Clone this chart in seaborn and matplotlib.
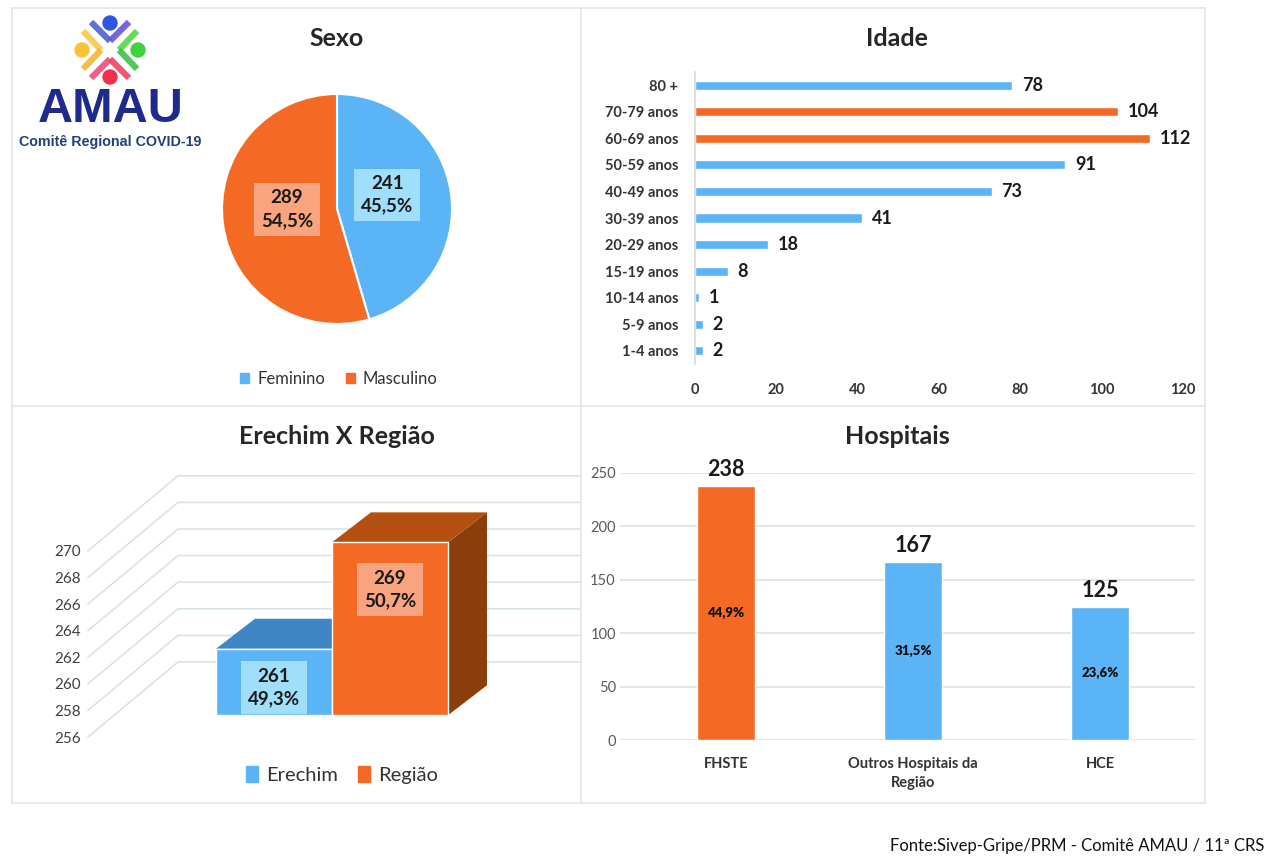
import numpy as np
import matplotlib
matplotlib.use("Agg")
import matplotlib.pyplot as plt
from matplotlib.patches import Polygon, Circle, Patch
from matplotlib.lines import Line2D
import seaborn as sns

# ---- data ----
sexo_labels = ['Feminino', 'Masculino']
sexo_values = [241, 289]
sexo_pct = ['45,5%', '54,5%']

idade_labels = ['80 +', '70-79 anos', '60-69 anos', '50-59 anos', '40-49 anos',
                '30-39 anos', '20-29 anos', '15-19 anos', '10-14 anos', '5-9 anos', '1-4 anos']
idade_values = [78, 104, 112, 91, 73, 41, 18, 8, 1, 2, 2]
idade_ticks = [0, 20, 40, 60, 80, 100, 120]

regiao_labels = ['Erechim', 'Região']
regiao_values = [261, 269]
regiao_pct = ['49,3%', '50,7%']
regiao_ticks = [256, 258, 260, 262, 264, 266, 268, 270]

hosp_labels = ['FHSTE', 'Outros Hospitais da\nRegião', 'HCE']
hosp_values = [238, 167, 125]
hosp_pct = ['44,9%', '31,5%', '23,6%']
hosp_ticks = [0, 50, 100, 150, 200, 250]

BLUE = '#5BB4F6'
ORANGE = '#F46A24'
TXT = '#404040'

sns.set_theme(style="white")
plt.rcParams['font.family'] = ['Lato', 'DejaVu Sans']

W, H = 1280, 865
fig = plt.figure(figsize=(W / 100, H / 100), dpi=100)
fig.patch.set_facecolor('white')


def px_axes(x0, y0, x1, y1):
    # axes placed with pixel coords of the picture (origin top-left)
    return fig.add_axes([x0 / W, 1 - y1 / H, (x1 - x0) / W, (y1 - y0) / H])


def fx(x):
    return x / W


def fy(y):
    return 1 - y / H


# panel borders
for (xa, ya, xb, yb) in [(12, 8, 1205, 8), (12, 406, 1205, 406), (12, 803, 1205, 803),
                         (12, 8, 12, 803), (581, 8, 581, 803), (1205, 8, 1205, 803)]:
    fig.add_artist(Line2D([fx(xa), fx(xb)], [fy(ya), fy(yb)], color='#E3E6E6', lw=1.2))

# ---- logo ----
lg = px_axes(10, 8, 210, 160)
lg.set_xlim(10, 210)
lg.set_ylim(160, 8)
lg.axis('off')
people = [  # head, vertex, arm ends, colors
    ((110, 23), (110, 41), [(91, 22), (129, 22)], '#2F56E0', ['#4A63D8', '#6A55D6']),
    ((82, 50), (101, 50), [(83, 31), (83, 69)], '#F8C33A', ['#F9C94A', '#F2B636']),
    ((138, 50), (119, 50), [(137, 31), (137, 69)], '#3FD140', ['#55D848', '#3CC24A']),
    ((110, 77), (110, 59), [(91, 78), (129, 78)], '#F0304A', ['#E8507A', '#F0455E']),
]
for head, vtx, arms, hc, ac in people:
    for end, c in zip(arms, ac):
        lg.plot([vtx[0], end[0]], [vtx[1], end[1]], color=c, lw=4.5, solid_capstyle='butt', alpha=0.9)
    lg.add_patch(Circle(head, 7, color=hc, zorder=3))
lg.text(111, 109, 'AMAU', ha='center', va='center', fontsize=35, fontweight='bold',
        color='#1F2A8C', family=['Liberation Sans', 'DejaVu Sans'])
lg.text(110, 142, 'Comitê Regional COVID-19', ha='center', va='center', fontsize=10.3,
        fontweight='bold', color='#24407A', family=['Liberation Sans', 'DejaVu Sans'])

# ---- Sexo (pie) ----
fig.text(fx(337), fy(38), 'Sexo', ha='center', va='center', fontsize=18, fontweight='bold', color='#262626')
ax1 = px_axes(222, 94, 452, 324)
wedges, _ = ax1.pie(sexo_values, colors=[BLUE, ORANGE], startangle=90, counterclock=False,
                    wedgeprops=dict(edgecolor='white', linewidth=1.5))
ax1.set_xlim(-1, 1)
ax1.set_ylim(-1, 1)
ax1.set_aspect('equal')
box_cols = ['#9FDFFB', '#F8A47F']
tot = sum(sexo_values)
ang0 = 90
for i, (v, p) in enumerate(zip(sexo_values, sexo_pct)):
    mid = np.deg2rad(ang0 - v / tot * 180)
    ang0 -= v / tot * 360
    ax1.text(0.44 * np.cos(mid), 0.44 * np.sin(mid) + 0.06, f'{v}\n{p}', ha='center', va='center',
             fontsize=13.5, fontweight='bold', color='#1A1A1A', linespacing=1.4,
             bbox=dict(boxstyle='square,pad=0.35', fc=box_cols[i], ec='none'))
fig.legend([Patch(color=BLUE), Patch(color=ORANGE)], sexo_labels, loc='center',
           bbox_to_anchor=(fx(339), fy(379)), ncol=2, frameon=False, fontsize=12,
           handlelength=0.55, handleheight=0.55, columnspacing=1.2, handletextpad=0.5,
           labelcolor='#333333')

# ---- Idade (horizontal bars) ----
fig.text(fx(897), fy(38), 'Idade', ha='center', va='center', fontsize=18, fontweight='bold', color='#262626')
ax2 = px_axes(695, 72, 1183, 364)
idade_cols = [ORANGE if lab in ('70-79 anos', '60-69 anos') else BLUE for lab in idade_labels]
sns.barplot(x=idade_values, y=idade_labels, hue=idade_labels, palette=idade_cols, orient='h',
            width=0.34, legend=False, ax=ax2, saturation=1)
ax2.set_xlim(0, 120)
ax2.set_ylim(10.5, -0.5)
ax2.set_xticks(idade_ticks)
ax2.tick_params(axis='y', length=0, pad=12, labelsize=10.5, labelcolor='#333333')
ax2.tick_params(axis='x', length=0, pad=14, labelsize=10.5, labelcolor='#333333')
for lab in ax2.get_yticklabels() + ax2.get_xticklabels():
    lab.set_fontweight('bold')
for s in ['top', 'right', 'bottom']:
    ax2.spines[s].set_visible(False)
ax2.spines['left'].set_color('#D9D9D9')
ax2.set_xlabel('')
ax2.set_ylabel('')
for c in ax2.containers:
    for t in ax2.bar_label(c, padding=7, fontsize=13, fontweight='bold', color='#1A1A1A'):
        t.set_va('center')

# ---- Erechim X Região (3D look bars) ----
fig.text(fx(337), fy(436), 'Erechim X Região', ha='center', va='center', fontsize=18,
         fontweight='bold', color='#262626')
ax3 = px_axes(88, 460, 580, 750)
ppu_y = 13.3   # pixels per unit
ppu_x = 116.0
ax3.set_ylim(256 - 13 / ppu_y, 256 + 277 / ppu_y)
ax3.set_xlim((88 - 274) / ppu_x, (580 - 274) / ppu_x)
xl, xr = ax3.get_xlim()
wall_dx, wall_dy = 90 / ppu_x, 75 / ppu_y
for v in regiao_ticks:
    ax3.plot([xl, xl + wall_dx, xr], [v, v + wall_dy, v + wall_dy], color='#D8E4E4', lw=1.2,
             clip_on=False, zorder=1)
shift = 0.29 * wall_dy
bdx, bdy = 39 / ppu_x, 30 / ppu_y
base = regiao_ticks[0]
front = [BLUE, ORANGE]
tops = ['#3F86C7', '#B4500F']
sides = ['#2F6FA8', '#8C3E0A']
boxes = ['#9FDFFB', '#F8A47F']
for i, v in enumerate(regiao_values):
    b = base + shift
    t = v + shift
    ax3.add_patch(Polygon([(i + 0.5, b), (i + 0.5, t), (i + 0.5 + bdx, t + bdy), (i + 0.5 + bdx, b + bdy)],
                          closed=True, fc=sides[i], ec='none', zorder=2 + 3 * i))
    ax3.add_patch(Polygon([(i - 0.5, t), (i + 0.5, t), (i + 0.5 + bdx, t + bdy), (i - 0.5 + bdx, t + bdy)],
                          closed=True, fc=tops[i], ec='none', zorder=3 + 3 * i))
    ax3.bar(i, v - base, bottom=b, width=1.0, color=front[i], zorder=4 + 3 * i)
    ax3.text(i, t - 2.5 - 0.08 * (v - base), f'{v}\n{regiao_pct[i]}', ha='center', va='center',
             fontsize=13.5, fontweight='bold', color='#1A1A1A', linespacing=1.4, zorder=20,
             bbox=dict(boxstyle='square,pad=0.35', fc=boxes[i], ec='none'))
ax3.set_yticks(regiao_ticks)
ax3.set_xticks([])
ax3.tick_params(axis='y', length=0, pad=5, labelsize=11, labelcolor=TXT)
for s in ax3.spines.values():
    s.set_visible(False)
ax3.patch.set_alpha(0)
fig.legend([Patch(color=BLUE), Patch(color=ORANGE)], regiao_labels, loc='center',
           bbox_to_anchor=(fx(342), fy(775)), ncol=2, frameon=False, fontsize=14.5,
           handlelength=0.6, handleheight=0.8, columnspacing=1.0, handletextpad=0.4,
           labelcolor='#333333')

# ---- Hospitais ----
fig.text(fx(897), fy(436), 'Hospitais', ha='center', va='center', fontsize=18, fontweight='bold', color='#262626')
ax4 = px_axes(620, 473, 1195, 740)
sns.barplot(x=hosp_labels, y=hosp_values, hue=hosp_labels, palette=[ORANGE, BLUE, BLUE],
            width=0.31, legend=False, ax=ax4, saturation=1, zorder=3)
ax4.set_xlim((620 - 726) / 187, (1195 - 726) / 187)
ax4.set_ylim(0, 250)
ax4.set_yticks(hosp_ticks)
ax4.yaxis.grid(True, color='#DCE3E3', lw=1.2)
ax4.set_axisbelow(True)
for s in ax4.spines.values():
    s.set_visible(False)
ax4.tick_params(axis='y', length=0, pad=3, labelsize=10.5, labelcolor='#595959')
ax4.tick_params(axis='x', length=0, pad=12, labelsize=10.5, labelcolor='#333333')
for lab in ax4.get_xticklabels():
    lab.set_fontweight('bold')
    lab.set_linespacing(1.5)
ax4.set_xlabel('')
ax4.set_ylabel('')
for c in ax4.containers:
    ax4.bar_label(c, padding=4, fontsize=15.5, fontweight='bold', color='#1A1A1A')
for i, (v, p) in enumerate(zip(hosp_values, hosp_pct)):
    ax4.text(i, v * 0.5, p, ha='center', va='center', fontsize=9.5, fontweight='heavy', color='#111111')

# footer
fig.text(fx(1264), fy(846), 'Fonte:Sivep-Gripe/PRM - Comitê AMAU / 11ª CRS', ha='right', va='center',
         fontsize=12, color='#111111')

fig.savefig('out.png', dpi=100, facecolor='white')
